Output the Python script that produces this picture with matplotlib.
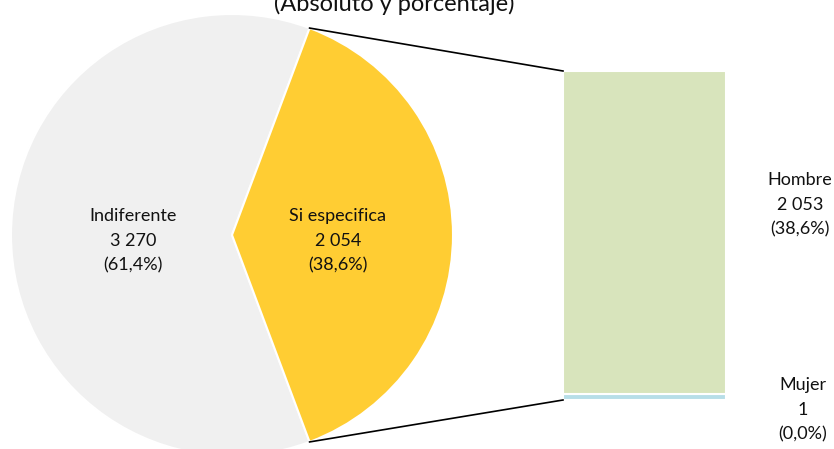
"""
Pie-of-bar: Indiferente vs Si especifica, with the breakdown by sex.
"""
import numpy as np
import matplotlib.pyplot as plt

plt.rcParams['font.family'] = ['Lato', 'DejaVu Sans']

pie_labels = ['Indiferente', 'Si especifica']
pie_values = [3270, 2054]
pie_pcts = ['61,4%', '38,6%']
pie_colors = ['#F0F0F0', '#FFCD33']

bar_labels = ['Mujer', 'Hombre']
bar_values = [1, 2053]
bar_pcts = ['0,0%', '38,6%']
bar_colors = ['#B7DEE8', '#D8E4BC']

title = '(Absoluto y porcentaje)'


def fmt(v):
    return f"{v:,}".replace(',', ' ')


W, H = 834, 449
fig = plt.figure(figsize=(W / 100, H / 100), dpi=100)
ax = fig.add_axes([0, 0, 1, 1])

# pie, "Si especifica" centred on the right side
cx, cy, r = 232, 214, 221
split_deg = 360 * pie_values[1] / sum(pie_values)
ax.pie(pie_values, colors=pie_colors, startangle=split_deg / 2,
       center=(cx, cy), radius=r, counterclock=True,
       wedgeprops=dict(edgecolor='white', linewidth=1.5), frame=True)
ax.set_xlim(0, W)
ax.set_ylim(0, H)
ax.set_aspect('equal')
ax.axis('off')

txt = dict(ha='center', va='center', fontsize=13, linespacing=1.66, color='#111111')

label_pos = [(cx - 99, cy - 6), (cx + 106, cy - 6)]
for (x, y), lab, v, p in zip(label_pos, pie_labels, pie_values, pie_pcts):
    ax.text(x, y, f"{lab}\n{fmt(v)}\n({p})", **txt)

# stacked bar on the right (Mujer gets a minimum visible height)
bx, bw = 563, 163
b0, blen = 49, 329
min_h = 6
heights = [max(v / sum(bar_values) * blen, min_h) for v in bar_values]
heights[1] = blen - heights[0]
bottom = b0
for h, c in zip(heights, bar_colors):
    ax.bar(bx, h, width=bw, bottom=bottom, align='edge', color=c,
           edgecolor='white', linewidth=1.5)
    bottom += h

# connector lines
a = np.deg2rad(split_deg / 2)
ax.plot([cx + r * np.cos(a), bx], [cy + r * np.sin(a), b0 + blen], color='black', lw=1.2)
ax.plot([cx + r * np.cos(a), bx], [cy - r * np.sin(a), b0], color='black', lw=1.2)

# bar labels
bar_label_pos = [(803, H - 410), (800, H - 205)]
for (x, y), lab, v, p in zip(bar_label_pos, bar_labels, bar_values, bar_pcts):
    ax.text(x, y, f"{lab}\n{fmt(v)}\n({p})", **txt)

ax.text(394, H - 11, title, ha='center', va='baseline', fontsize=17, color='#111111')

fig.savefig('out.png', dpi=100)
